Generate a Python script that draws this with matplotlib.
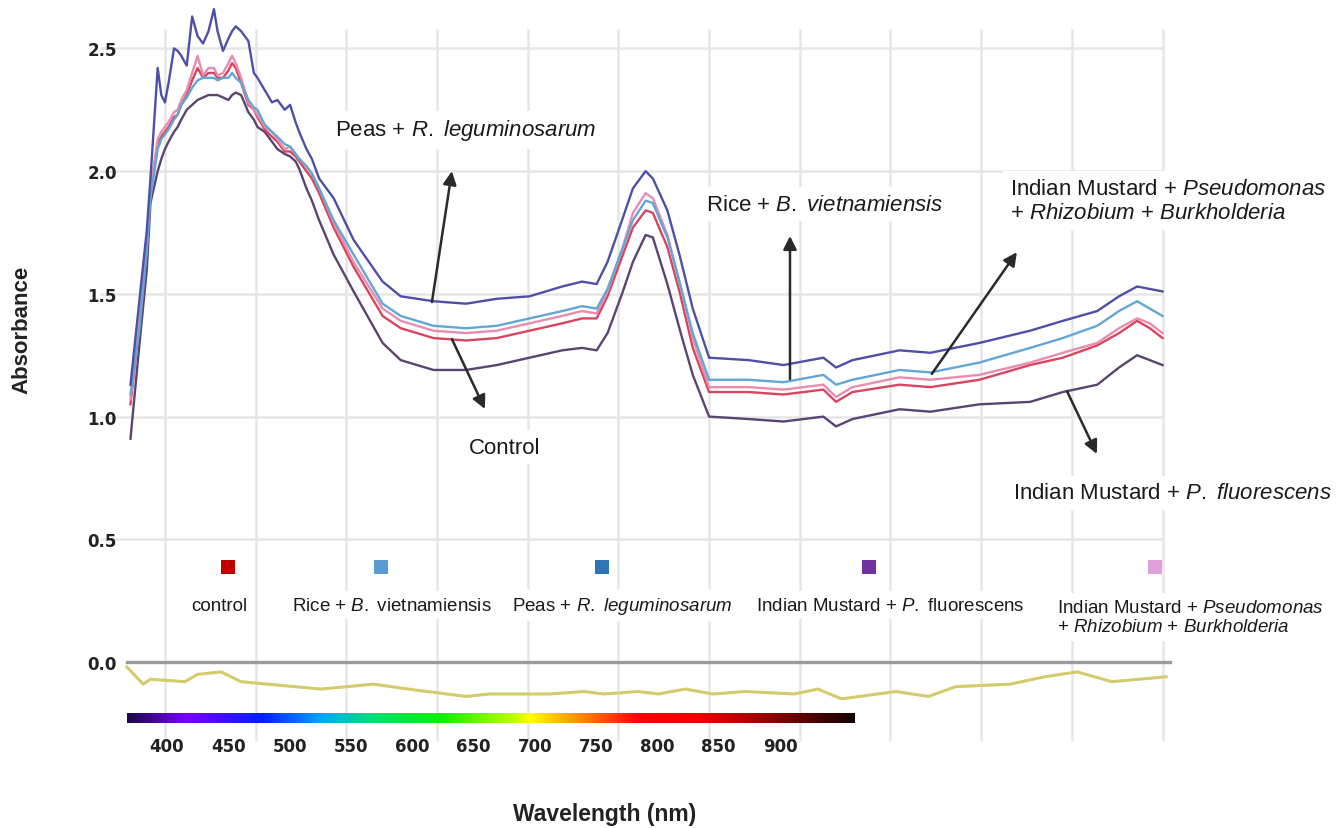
import matplotlib.pyplot as plt
import numpy as np
from matplotlib.colors import LinearSegmentedColormap

plt.rcParams["font.family"] = ["Liberation Sans", "DejaVu Sans"]
plt.rcParams["mathtext.fontset"] = "custom"
plt.rcParams["mathtext.rm"] = "Liberation Sans"
plt.rcParams["mathtext.it"] = "Liberation Sans:italic"
plt.rcParams["mathtext.bf"] = "Liberation Sans:bold"

# spectra (nm, absorbance)
wavelength = [381, 386, 390, 392, 396, 398, 400, 402, 405, 407, 409, 412, 415, 418, 421, 424,
              427, 429, 432, 435, 437, 439, 442, 446, 449, 451, 455, 459, 462, 466, 469, 472,
              474, 478, 481, 485, 493, 504, 520, 530, 548, 566, 583, 601, 619, 630, 638, 644,
              652, 658, 665, 669, 677, 684, 691, 700, 722, 741, 763, 770, 779, 805, 822, 849,
              877, 895, 914, 926, 936, 943, 950]
peas_rleg = [1.13, 1.48, 1.76, 1.97, 2.42, 2.31, 2.28, 2.36, 2.50, 2.49, 2.47, 2.43, 2.63, 2.55, 2.52, 2.57,
             2.66, 2.57, 2.49, 2.54, 2.57, 2.59, 2.57, 2.53, 2.40, 2.38, 2.33, 2.28, 2.29, 2.25, 2.27, 2.20,
             2.16, 2.09, 2.05, 1.97, 1.89, 1.72, 1.55, 1.49, 1.47, 1.46, 1.48, 1.49, 1.53, 1.55, 1.54, 1.63,
             1.80, 1.93, 2.00, 1.97, 1.84, 1.65, 1.44, 1.24, 1.23, 1.21, 1.24, 1.20, 1.23, 1.27, 1.26, 1.30,
             1.35, 1.39, 1.43, 1.49, 1.53, 1.52, 1.51]
rice_bviet = [1.09, 1.36, 1.68, 1.89, 2.09, 2.13, 2.15, 2.17, 2.21, 2.23, 2.27, 2.30, 2.34, 2.37, 2.38, 2.38,
              2.38, 2.37, 2.38, 2.38, 2.40, 2.38, 2.36, 2.29, 2.26, 2.25, 2.19, 2.16, 2.14, 2.11, 2.10, 2.07,
              2.05, 2.02, 1.99, 1.93, 1.80, 1.66, 1.46, 1.41, 1.37, 1.36, 1.37, 1.40, 1.43, 1.45, 1.44, 1.52,
              1.68, 1.80, 1.88, 1.87, 1.73, 1.54, 1.34, 1.15, 1.15, 1.14, 1.17, 1.13, 1.15, 1.19, 1.18, 1.22,
              1.28, 1.32, 1.37, 1.43, 1.47, 1.44, 1.41]
mustard_mix = [1.07, 1.40, 1.70, 1.93, 2.13, 2.16, 2.18, 2.20, 2.24, 2.25, 2.29, 2.33, 2.40, 2.47, 2.39, 2.42,
               2.42, 2.39, 2.40, 2.44, 2.47, 2.44, 2.38, 2.28, 2.25, 2.23, 2.18, 2.16, 2.13, 2.09, 2.10, 2.07,
               2.05, 2.02, 1.99, 1.93, 1.79, 1.63, 1.44, 1.39, 1.35, 1.34, 1.35, 1.38, 1.41, 1.43, 1.42, 1.51,
               1.68, 1.83, 1.91, 1.89, 1.74, 1.54, 1.32, 1.12, 1.12, 1.11, 1.13, 1.08, 1.12, 1.16, 1.15, 1.17,
               1.22, 1.26, 1.30, 1.36, 1.40, 1.38, 1.34]
control = [1.05, 1.38, 1.69, 1.91, 2.11, 2.14, 2.16, 2.18, 2.22, 2.23, 2.27, 2.31, 2.37, 2.42, 2.38, 2.40,
           2.40, 2.38, 2.38, 2.41, 2.44, 2.42, 2.36, 2.27, 2.25, 2.22, 2.17, 2.14, 2.12, 2.08, 2.08, 2.06,
           2.04, 2.00, 1.97, 1.91, 1.77, 1.61, 1.41, 1.36, 1.32, 1.31, 1.32, 1.35, 1.38, 1.40, 1.40, 1.49,
           1.65, 1.77, 1.84, 1.83, 1.69, 1.50, 1.28, 1.10, 1.10, 1.09, 1.11, 1.06, 1.10, 1.13, 1.12, 1.15,
           1.21, 1.24, 1.29, 1.34, 1.39, 1.36, 1.32]
mustard_pfluo = [0.91, 1.30, 1.60, 1.87, 2.00, 2.05, 2.09, 2.12, 2.16, 2.18, 2.21, 2.25, 2.27, 2.29, 2.30, 2.31,
                 2.31, 2.31, 2.30, 2.29, 2.31, 2.32, 2.31, 2.24, 2.21, 2.18, 2.16, 2.12, 2.09, 2.07, 2.06, 2.04,
                 2.01, 1.93, 1.88, 1.80, 1.66, 1.51, 1.30, 1.23, 1.19, 1.19, 1.21, 1.24, 1.27, 1.28, 1.27, 1.34,
                 1.50, 1.63, 1.74, 1.73, 1.54, 1.35, 1.17, 1.00, 0.99, 0.98, 1.00, 0.96, 0.99, 1.03, 1.02, 1.05,
                 1.06, 1.10, 1.13, 1.20, 1.25, 1.23, 1.21]

# lower panel: baseline trace and zero line
baseline_wl = [379, 388, 392, 411, 418, 431, 442, 486, 515, 534, 566, 579, 612, 631, 642, 661,
               672, 687, 702, 720, 747, 760, 773, 803, 821, 836, 866, 885, 903, 922, 952]
baseline_abs = [-0.02, -0.09, -0.07, -0.08, -0.05, -0.04, -0.08, -0.11, -0.09, -0.11, -0.14, -0.13,
                -0.13, -0.12, -0.13, -0.12, -0.13, -0.11, -0.13, -0.12, -0.13, -0.11, -0.15, -0.12,
                -0.14, -0.10, -0.09, -0.06, -0.04, -0.08, -0.06]
zero_wl = [379, 954]

# visible spectrum bar
spectrum_nm = [379, 411, 454, 486, 515, 553, 594, 601, 627, 661, 694, 728, 780]
spectrum_colors = ["#1c0848", "#7a00ff", "#0020ff", "#00a8ff", "#00e070", "#10f000", "#c8ff00",
                   "#ffff00", "#ff9000", "#ff0000", "#f00000", "#a00000", "#100000"]

grid_nm = [400, 450, 500, 550, 600, 650, 700, 750, 800, 850, 900, 950]
abs_ticks = [0.0, 0.5, 1.0, 1.5, 2.0, 2.5]
grid_abs = [0.5, 1.0, 1.5, 2.0, 2.5]
label_nm = [400, 450, 500, 550, 600, 650, 700, 750, 800, 850, 900]

legend_names = ["control", "Rice + $\\mathit{B.}$ vietnamiensis",
                "Peas + $\\mathit{R.}$ $\\mathit{leguminosarum}$",
                "Indian Mustard + $\\mathit{P.}$ fluorescens"]
legend_square_nm = [435, 519, 641, 788, 946]
legend_label_nm = [430, 525, 652, 800]
legend_colors = ["#c00000", "#5b9bd5", "#2e75b6", "#7030a0", "#dda0d8"]

fig = plt.figure(figsize=(13.41, 8.29), dpi=100)
ax = fig.add_axes([0.0708, 0.1134, 0.8091, 0.8806])
for s in ax.spines.values():
    s.set_visible(False)

grid_c = "#e6e6e6"
ax.vlines(grid_nm, -0.32, 2.58, color=grid_c, lw=1.8, zorder=0, clip_on=False)
ax.hlines(grid_abs, 364, 951, color=grid_c, lw=1.8, zorder=0)

series = [(mustard_pfluo, "#5a4470"), (control, "#d9455f"), (mustard_mix, "#e88cb0"),
          (rice_bviet, "#63a6d6"), (peas_rleg, "#4f4fa8")]
for vals, col in series:
    ax.plot(wavelength, vals, color=col, lw=1.7, zorder=3)

ax.plot(zero_wl, [0, 0], color="#9a9a9a", lw=2.4, zorder=3)
ax.plot(baseline_wl, baseline_abs, color="#d3cb6c", lw=2.2, zorder=3)

stops = [(w - spectrum_nm[0]) / (spectrum_nm[-1] - spectrum_nm[0]) for w in spectrum_nm]
cmap = LinearSegmentedColormap.from_list("spec", list(zip(stops, spectrum_colors)))
ax.imshow(np.linspace(0, 1, 512)[None, :], cmap=cmap, aspect="auto",
          extent=[spectrum_nm[0], spectrum_nm[-1], -0.248, -0.208], zorder=3)
ax.set_xlim(361.4, 959.6)
ax.set_ylim(-0.293, 2.681)

# y ticks
ax.set_yticks(abs_ticks)
ax.set_yticklabels([f"{v:.1f}" for v in abs_ticks], family="DejaVu Sans", weight="bold",
                   fontsize=12, color="#222222")
ax.tick_params(axis="y", length=0, pad=-15.8)
ax.set_xticks([])

# bottom tick labels come from a differently scaled panel
def to_label(w):
    return 400 + (1.8137 * (w - 400) - 2) / 1.226

def from_label(v):
    return 400 + (1.226 * (v - 400) + 2) / 1.8137

sec = ax.secondary_xaxis("bottom", functions=(to_label, from_label))
sec.set_xticks(label_nm)
sec.set_xticklabels([str(v) for v in label_nm], family="DejaVu Sans", weight="bold",
                    fontsize=12, color="#222222")
sec.tick_params(length=0, pad=2)
sec.spines["bottom"].set_visible(False)

fig.text(605 / 1341, 1 - 815 / 829, "Wavelength (nm)", ha="center", va="center",
         fontsize=16.5, weight="bold", color="#222222")
fig.text(22 / 1341, 1 - 330 / 829, "Absorbance", ha="center", va="center", rotation=90,
         fontsize=16, weight="bold", color="#222222")

# annotations
box = dict(fc="white", ec="none", pad=5)
arrow_kw = dict(arrowstyle="-|>", color="#2a2a2a", lw=1.8, mutation_scale=20, shrinkA=0, shrinkB=0)
ax.text(566, 2.168, "Peas + $\\mathit{R.}$ $\\mathit{leguminosarum}$", ha="center", va="center",
        fontsize=16, color="#1a1a1a", bbox=box, zorder=4)
ax.annotate("", xy=(558.2, 2.00), xytext=(547.2, 1.467), arrowprops=arrow_kw, zorder=5)
ax.text(587, 0.876, "Control", ha="center", va="center", fontsize=16, color="#1a1a1a",
        bbox=box, zorder=4)
ax.annotate("", xy=(576.4, 1.031), xytext=(558.2, 1.316), arrowprops=arrow_kw, zorder=5)
ax.text(763.6, 1.866, "Rice + $\\mathit{B.}$ $\\mathit{vietnamiensis}$", ha="center", va="center",
        fontsize=16, color="#1a1a1a", bbox=box, zorder=4)
ax.annotate("", xy=(744.6, 1.736), xytext=(744.6, 1.153), arrowprops=arrow_kw, zorder=5)
ax.text(866, 1.879, "Indian Mustard + $\\mathit{Pseudomonas}$\n+ $\\mathit{Rhizobium}$ + $\\mathit{Burkholderia}$",
        ha="left", va="center", fontsize=16, color="#1a1a1a", bbox=box, zorder=4)
ax.annotate("", xy=(869.7, 1.67), xytext=(822.8, 1.174), arrowprops=arrow_kw, zorder=5)
ax.text(867.5, 0.689, "Indian Mustard + $\\mathit{P.}$ $\\mathit{fluorescens}$", ha="left", va="center",
        fontsize=16, color="#1a1a1a", bbox=box, zorder=4)
ax.annotate("", xy=(913.8, 0.848), xytext=(897.3, 1.104), arrowprops=arrow_kw, zorder=5)

# colour key row
ax.scatter(legend_square_nm, [0.387] * len(legend_square_nm), marker="s", s=100,
           c=legend_colors, linewidths=0, zorder=5, clip_on=False)
for name, x in zip(legend_names, legend_label_nm):
    ax.text(x, 0.232, name, ha="center", va="center", fontsize=13.5, color="#1a1a1a",
            bbox=dict(fc="white", ec="none", pad=4), zorder=4)
ax.text(892, 0.183, "Indian Mustard + $\\mathit{Pseudomonas}$\n+ $\\mathit{Rhizobium}$ + $\\mathit{Burkholderia}$",
        ha="left", va="center", fontsize=13.5, color="#1a1a1a",
        bbox=dict(fc="white", ec="none", pad=4), zorder=4)

fig.savefig("out.png", dpi=100)
